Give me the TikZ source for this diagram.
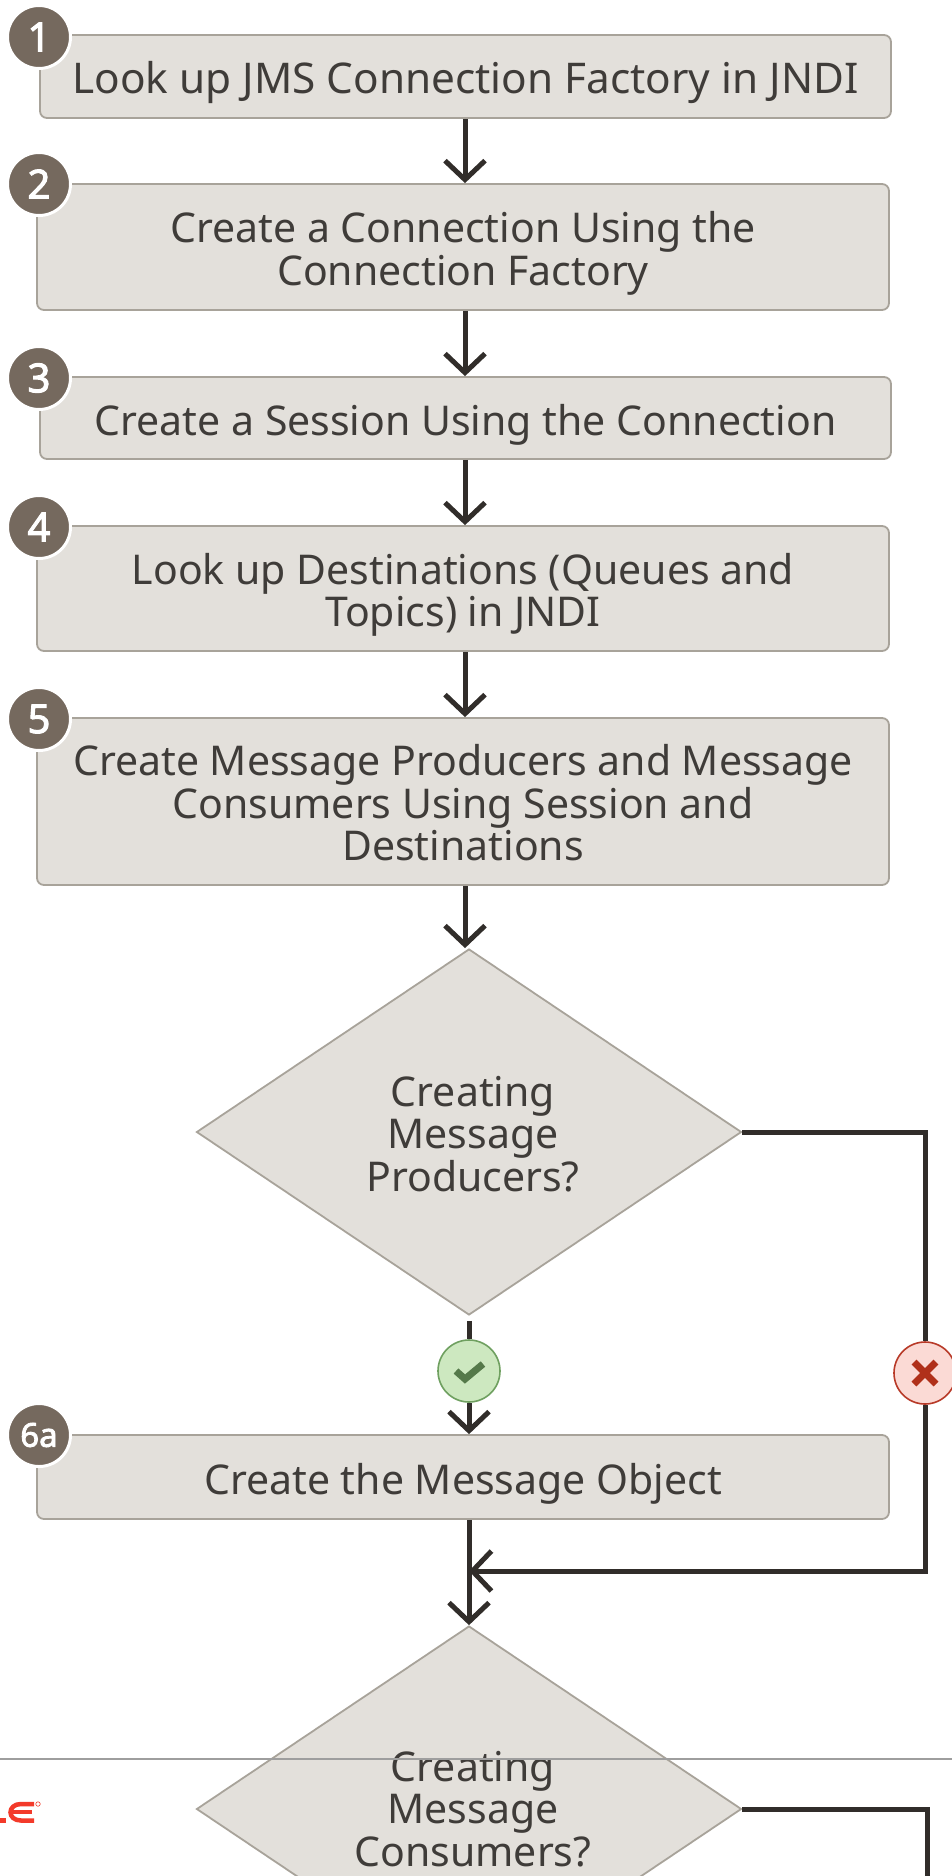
\documentclass[tikz,border=0pt]{standalone}
\usepackage{fontspec}
\setmainfont{Noto Sans}
\newfontfamily\badgefont[FakeBold=2.5]{Noto Sans}
\usetikzlibrary{shapes.geometric,arrows.meta,calc}
\definecolor{boxfill}{HTML}{E3E0DB}
\definecolor{boxline}{HTML}{A8A39A}
\definecolor{inkc}{HTML}{3F3C39}
\definecolor{lnc}{HTML}{312D2A}
\definecolor{badgec}{HTML}{75695E}
\definecolor{okfill}{HTML}{CDE8C0}
\definecolor{okline}{HTML}{6FA060}
\definecolor{okmark}{HTML}{55794A}
\definecolor{nofill}{HTML}{FBDAD5}
\definecolor{noline}{HTML}{B83A28}
\definecolor{nomark}{HTML}{B0301A}
\definecolor{orared}{HTML}{F33A2A}
\newcommand{\dnA}{\rule{0pt}{44pt}}
\newcommand{\dnB}{\rule{0pt}{34pt}}
\newcommand{\rtp}{\hspace*{8pt}}
\tikzset{
  flowbox/.style={draw=boxline,fill=boxfill,line width=1.8pt,rounded corners=7pt,text=inkc,align=center,inner sep=0pt,font=\fontsize{41}{42.5}\selectfont},
  flowdia/.style={diamond,draw=boxline,fill=boxfill,line width=1.8pt,text=inkc,align=center,inner sep=0pt,aspect=1.489,minimum width=545pt,minimum height=366pt,font=\fontsize{41}{42.5}\selectfont},
  badge/.style={circle,fill=badgec,draw=white,line width=3pt,text=white,minimum size=63pt,inner sep=0pt,font=\fontsize{40}{40}\selectfont\badgefont},
  conn/.style={draw=lnc,line width=5pt},
  arrowc/.style={conn,-{Straight Barb[length=19pt,width=40pt,line width=5pt]}},
  okdot/.style={circle,draw=okline,fill=okfill,line width=1.6pt,minimum size=62pt,inner sep=0pt},
  nodot/.style={circle,draw=noline,fill=nofill,line width=1.6pt,minimum size=62pt,inner sep=0pt},
}
\begin{document}
\begin{tikzpicture}[x=1pt,y=-1pt]
\useasboundingbox (0,0) rectangle (952,1876);
\clip (0,0) rectangle (952,1876);
\fill[white] (0,0) rectangle (952,1876);
\coordinate (ax) at (465,0);
\coordinate (bx) at (469,0);
\node[flowbox,minimum width=851pt,minimum height=83pt,font=\fontsize{42.3}{42.5}\selectfont] (b1) at (465.5,76.5) {\dnA Look up JMS Connection Factory in JNDI};
\node[flowbox,minimum width=852pt,minimum height=126pt] (b2) at (463,247) {\dnA Create a Connection Using the\\Connection Factory};
\node[flowbox,minimum width=851pt,minimum height=82pt] (b3) at (465.5,418) {\dnA Create a Session Using the Connection};
\node[flowbox,minimum width=852pt,minimum height=125pt] (b4) at (463,588.5) {\dnA Look up Destinations (Queues and\\Topics) in JNDI};
\node[flowbox,minimum width=852pt,minimum height=167pt] (b5) at (463,801.5) {\dnB Create Message Producers and Message\\Consumers Using Session and\\Destinations};
\node[flowdia] (d1) at (469,1132) {\dnB\rtp Creating\\\rtp Message\\\rtp Producers?};
\node[flowbox,minimum width=852pt,minimum height=84pt] (b6) at (463,1477) {\dnA Create the Message Object};
\node[flowdia] (d2) at (469,1809) {\rtp Creating\\\rtp Message\\\rtp Consumers?};
\coordinate (merge) at (469,1571);
\coordinate (rt1) at (925,1132);
\coordinate (rt2) at (925,1571);
\coordinate (rt3) at (927,1809);
\coordinate (rt4) at (927,1876);
\draw[arrowc] (b1.south -| ax) -- (b2.north -| ax);
\draw[arrowc] (b2.south -| ax) -- (b3.north -| ax);
\draw[arrowc] (b3.south -| ax) -- (b4.north -| ax);
\draw[arrowc] (b4.south -| ax) -- (b5.north -| ax);
\draw[arrowc] (b5.south -| ax) -- (d1.north -| ax);
\node[okdot] (ok) at (469,1371) {};
\node[nodot] (no) at (925,1373) {};
\draw[conn] ($(d1.south)+(0,5)$) -- (ok);
\draw[arrowc] (ok) -- (b6.north -| ok);
\draw[conn] (d1.east) -- (rt1) -- (no);
\draw[arrowc,line join=miter] (no) -- (rt2) -- (merge);
\draw[arrowc] (b6.south -| bx) -- (d2.north);
\draw[conn] (d2.east) -- (rt3) -- (rt4);
\draw[okmark,line width=7pt] (456,1371) -- (465,1379) -- (483,1364);
\draw[nomark,line width=7pt] (914,1362) -- (936,1384) (936,1362) -- (914,1384);
\node[badge] (n1) at (39,37) {\raisebox{-2pt}{1}};
\node[badge] (n2) at (39,184) {2};
\node[badge] (n3) at (39,378) {3};
\node[badge] (n4) at (39,527) {4};
\node[badge] (n5) at (39,719) {5};
\node[badge,font=\fontsize{33}{33}\selectfont\badgefont] (n6) at (39,1435) {6a};
\draw[line width=1.2pt,draw=black!38] (0,1759) -- (952,1759);
\draw[orared,line width=4.5pt] (0,1820.5) -- (6,1820.5);
\draw[orared,line width=4.5pt] (34,1804) -- (21,1804) .. controls (7,1804) and (7,1820.5) .. (21,1820.5) -- (34,1820.5);
\draw[orared,line width=4pt] (13,1812.3) -- (32,1812.3);
\node[circle,draw=orared,line width=.6pt,minimum size=4.5pt,inner sep=0pt] (reg) at (38,1804) {};
\end{tikzpicture}
\end{document}
